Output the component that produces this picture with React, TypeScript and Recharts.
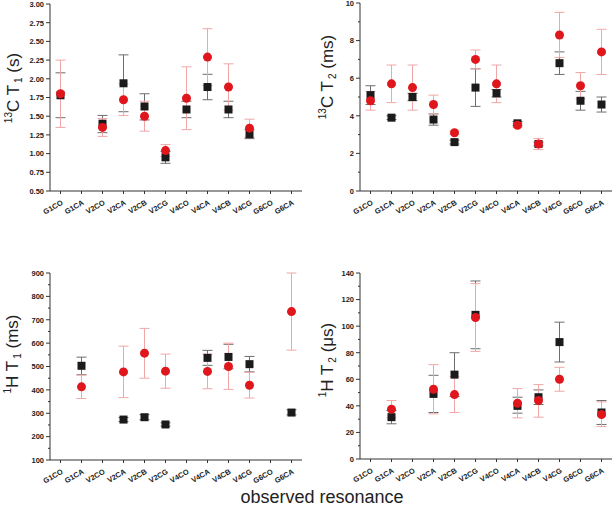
import React from 'react'
import { ScatterChart, Scatter, XAxis, YAxis, ErrorBar } from 'recharts'

const categories = ['G1CO', 'G1CA', 'V2CO', 'V2CA', 'V2CB', 'V2CG', 'V4CO', 'V4CA', 'V4CB', 'V4CG', 'G6CO', 'G6CA']

// 13C T1 (s)
const c13t1Black = [1.78, null, 1.40, 1.94, 1.63, 0.95, 1.59, 1.89, 1.59, 1.26, null, null]
const c13t1BlackLo = [1.48, null, 1.28, 1.56, 1.45, 0.87, 1.48, 1.72, 1.48, 1.20, null, null]
const c13t1BlackHi = [2.08, null, 1.51, 2.32, 1.80, 1.03, 1.70, 2.06, 1.70, 1.32, null, null]
const c13t1Red = [1.80, null, 1.35, 1.72, 1.50, 1.04, 1.74, 2.29, 1.89, 1.34, null, null]
const c13t1RedLo = [1.35, null, 1.23, 1.51, 1.30, 0.96, 1.32, 1.91, 1.58, 1.22, null, null]
const c13t1RedHi = [2.25, null, 1.47, 1.93, 1.70, 1.12, 2.16, 2.67, 2.20, 1.46, null, null]

// 13C T2 (ms)
const c13t2Black = [5.1, 3.9, 5.0, 3.8, 2.6, 5.5, 5.2, 3.6, 2.5, 6.8, 4.8, 4.6]
const c13t2BlackLo = [4.6, 3.8, 4.8, 3.5, 2.5, 4.5, 5.0, 3.5, 2.4, 6.2, 4.3, 4.2]
const c13t2BlackHi = [5.6, 4.0, 5.2, 4.1, 2.7, 6.5, 5.4, 3.7, 2.6, 7.4, 5.3, 5.0]
const c13t2Red = [4.8, 5.7, 5.5, 4.6, 3.1, 7.0, 5.7, 3.5, 2.5, 8.3, 5.6, 7.4]
const c13t2RedLo = [4.3, 4.7, 4.3, 4.1, 3.0, 6.5, 4.7, 3.4, 2.2, 7.1, 4.9, 6.2]
const c13t2RedHi = [5.3, 6.7, 6.7, 5.1, 3.2, 7.5, 6.7, 3.6, 2.8, 9.5, 6.3, 8.6]

// 1H T1 (ms)
const h1t1Black = [null, 503, null, 273, 283, 252, null, 537, 541, 510, null, 303]
const h1t1BlackLo = [null, 465, null, 264, 272, 245, null, 505, 490, 477, null, 293]
const h1t1BlackHi = [null, 540, null, 282, 294, 259, null, 569, 595, 543, null, 315]
const h1t1Red = [null, 413, null, 477, 557, 480, null, 479, 500, 420, null, 735]
const h1t1RedLo = [null, 363, null, 367, 450, 407, null, 405, 402, 365, null, 570]
const h1t1RedHi = [null, 463, null, 587, 663, 553, null, 553, 600, 475, null, 900]

// 1H T2 (us)
const h1t2Black = [null, 31.5, null, 49, 63.5, 108.5, null, 40, 46.5, 88, null, 35]
const h1t2BlackLo = [null, 26.5, null, 35, 47, 83, null, 34.5, 41, 73, null, 26]
const h1t2BlackHi = [null, 36.5, null, 63, 80, 134, null, 46.5, 52, 103, null, 44]
const h1t2Red = [null, 37.5, null, 52.5, 48.5, 106.5, null, 42, 44, 60, null, 33.5]
const h1t2RedLo = [null, 31, null, 34, 35, 81, null, 31, 31.5, 51, null, 24.5]
const h1t2RedHi = [null, 44, null, 71, 62, 132, null, 53, 56, 69, null, 43]

// y ticks (all) and labelled ones
const c13t1Ticks = [0.5, 0.75, 1.0, 1.25, 1.5, 1.75, 2.0, 2.25, 2.5, 2.75, 3.0]
const c13t1Major = c13t1Ticks
const c13t2Ticks = [0, 1, 2, 3, 4, 5, 6, 7, 8, 9, 10]
const c13t2Major = [0, 2, 4, 6, 8, 10]
const h1t1Ticks = [100, 150, 200, 250, 300, 350, 400, 450, 500, 550, 600, 650, 700, 750, 800, 850, 900]
const h1t1Major = [100, 200, 300, 400, 500, 600, 700, 800, 900]
const h1t2Ticks = [0, 10, 20, 30, 40, 50, 60, 70, 80, 90, 100, 110, 120, 130, 140]
const h1t2Major = [0, 20, 40, 60, 80, 100, 120, 140]

const FONT = '"Liberation Sans", Arial, sans-serif'
const RED = '#e0161d'
const BLACK = '#1b1b1b'

const toPoints = (vals: (number | null)[], lo: (number | null)[], hi: (number | null)[]) =>
  vals.flatMap((v, i) =>
    v == null ? [] : [{ x: i, y: v, err: [v - (lo[i] as number), (hi[i] as number) - v] }]
  )

function YTick(props: any) {
  const { x, y, payload, major, fmt } = props
  const isMajor = major.some((m: number) => Math.abs(m - payload.value) < 1e-9)
  return (
    <g>
      <line x1={x - (isMajor ? 4 : 2)} x2={x} y1={y} y2={y} stroke="#333" />
      {isMajor && (
        <text x={x - 6} y={y} dy={2.8} textAnchor="end" fontSize={7.5} fontWeight="bold"
          fontFamily={FONT} fill="#222">
          {fmt(payload.value)}
        </text>
      )}
    </g>
  )
}

function XTick(props: any) {
  const { x, y, payload } = props
  return (
    <g>
      <line x1={x} x2={x} y1={y} y2={y + 3} stroke="#333" />
      <text transform={`translate(${x + 3},${y + 13}) rotate(-30)`} textAnchor="end"
        fontSize={7.5} fontWeight="bold" fontFamily={FONT} fill="#222">
        {categories[payload.value]}
      </text>
    </g>
  )
}

const square = (p: any) => <rect x={p.cx - 4} y={p.cy - 4} width={8} height={8} fill={BLACK} />
const dot = (p: any) => <circle cx={p.cx} cy={p.cy} r={4.5} fill={RED} />

interface PanelProps {
  left: number
  top: number
  width: number
  height: number
  marginTop: number
  xHeight: number
  domain: [number, number]
  ticks: number[]
  major: number[]
  fmt: (v: number) => string
  black: (number | null)[]
  blackLo: (number | null)[]
  blackHi: (number | null)[]
  red: (number | null)[]
  redLo: (number | null)[]
  redHi: (number | null)[]
}

function Panel(p: PanelProps) {
  const blackPts = toPoints(p.black, p.blackLo, p.blackHi)
  const redPts = toPoints(p.red, p.redLo, p.redHi)
  return (
    <div style={{ position: 'absolute', left: p.left, top: p.top }}>
      <ScatterChart width={p.width} height={p.height}
        margin={{ top: p.marginTop, right: 1, left: 0, bottom: 0 }}>
        <XAxis dataKey="x" type="number" domain={[-0.5, 11.5]} ticks={categories.map((_, i) => i)}
          interval={0} height={p.xHeight} tickSize={0} tickMargin={0} tickLine={false}
          axisLine={{ stroke: '#333' }} tick={(t: any) => <XTick {...t} />} />
        <YAxis dataKey="y" type="number" domain={p.domain} ticks={p.ticks} interval={0}
          width={50} tickSize={0} tickMargin={0} tickLine={false} allowDataOverflow
          axisLine={{ stroke: '#333' }}
          tick={(t: any) => <YTick {...t} major={p.major} fmt={p.fmt} />} />
        <Scatter data={blackPts} shape={square} isAnimationActive={false}>
          <ErrorBar dataKey="err" direction="y" width={5} stroke="#6e6e6e" strokeWidth={1} />
        </Scatter>
        <Scatter data={redPts} shape={dot} isAnimationActive={false}>
          <ErrorBar dataKey="err" direction="y" width={5} stroke="#f1a7a7" strokeWidth={1} />
        </Scatter>
      </ScatterChart>
    </div>
  )
}

function YLabel({ cx, cy, children }: { cx: number; cy: number; children: React.ReactNode }) {
  return (
    <div style={{
      position: 'absolute', left: cx, top: cy, transform: 'translate(-50%,-50%) rotate(-90deg)',
      whiteSpace: 'nowrap', fontFamily: FONT, fontSize: 17, lineHeight: 1, color: '#222',
    }}>
      {children}
    </div>
  )
}

const sup = (s: string) => <span style={{ fontSize: 10, verticalAlign: 7 }}>{s}</span>
const sub = (s: string) => <span style={{ fontSize: 10, verticalAlign: -3, marginLeft: 2 }}>{s}</span>

export default function App() {
  return (
    <div style={{ position: 'absolute', left: 0, top: 0, width: 613, height: 509, background: '#fff', overflow: 'hidden' }}>
      <Panel left={0} top={0} width={303} height={250} marginTop={4} xHeight={59}
        domain={[0.5, 3]} ticks={c13t1Ticks} major={c13t1Major} fmt={(v) => v.toFixed(2)}
        black={c13t1Black} blackLo={c13t1BlackLo} blackHi={c13t1BlackHi}
        red={c13t1Red} redLo={c13t1RedLo} redHi={c13t1RedHi} />
      <Panel left={310} top={0} width={303} height={250} marginTop={3} xHeight={59}
        domain={[0, 10]} ticks={c13t2Ticks} major={c13t2Major} fmt={(v) => String(v)}
        black={c13t2Black} blackLo={c13t2BlackLo} blackHi={c13t2BlackHi}
        red={c13t2Red} redLo={c13t2RedLo} redHi={c13t2RedHi} />
      <Panel left={0} top={260} width={303} height={240} marginTop={13} xHeight={40}
        domain={[100, 900]} ticks={h1t1Ticks} major={h1t1Major} fmt={(v) => String(v)}
        black={h1t1Black} blackLo={h1t1BlackLo} blackHi={h1t1BlackHi}
        red={h1t1Red} redLo={h1t1RedLo} redHi={h1t1RedHi} />
      <Panel left={310} top={260} width={303} height={240} marginTop={13} xHeight={41}
        domain={[0, 140]} ticks={h1t2Ticks} major={h1t2Major} fmt={(v) => String(v)}
        black={h1t2Black} blackLo={h1t2BlackLo} blackHi={h1t2BlackHi}
        red={h1t2Red} redLo={h1t2RedLo} redHi={h1t2RedHi} />

      <YLabel cx={14} cy={88}>{sup('13')}C T{sub('1')} (s)</YLabel>
      <YLabel cx={328} cy={77}>{sup('13')}C T{sub('2')} (ms)</YLabel>
      <YLabel cx={13} cy={354}>{sup('1')}H T{sub('1')} (ms)</YLabel>
      <YLabel cx={328} cy={360}>{sup('1')}H T{sub('2')} (μs)</YLabel>

      <div style={{
        position: 'absolute', left: 322, top: 488, transform: 'translateX(-50%)', whiteSpace: 'nowrap',
        fontFamily: FONT, fontSize: 18, lineHeight: 1, color: '#222',
      }}>
        observed resonance
      </div>
    </div>
  )
}
